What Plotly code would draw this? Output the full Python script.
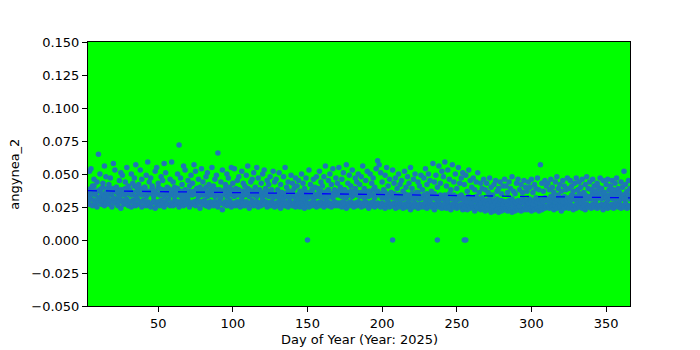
import numpy as np
import plotly.graph_objects as go

days = list(range(3, 367))

core_low = [
    0.029,0.027,0.031,0.026,0.030,0.028,0.025,0.029,0.032,0.027,0.030,0.026,0.028,0.031,
    0.027,0.030,0.025,0.029,0.028,0.031,0.026,0.029,0.024,0.030,0.027,0.028,0.031,0.026,
    0.029,0.025,0.030,0.028,0.026,0.031,0.027,0.029,0.025,0.030,0.028,0.026,0.029,0.027,
    0.025,0.028,0.030,0.024,0.027,0.029,0.026,0.030,0.028,0.025,0.029,0.027,0.031,0.026,
    0.028,0.026,0.030,0.027,0.029,0.025,0.028,0.031,0.026,0.029,0.027,0.030,0.025,0.028,
    0.027,0.029,0.026,0.030,0.028,0.024,0.029,0.027,0.030,0.026,0.028,0.025,0.029,0.027,
    0.026,0.029,0.027,0.025,0.030,0.028,0.023,0.027,0.029,0.026,0.028,0.030,0.025,0.027,
    0.028,0.026,0.029,0.027,0.025,0.030,0.028,0.026,0.029,0.027,0.024,0.028,0.030,0.026,
    0.027,0.029,0.025,0.028,0.026,0.030,0.027,0.029,0.025,0.028,0.026,0.029,0.027,0.025,
    0.028,0.026,0.029,0.024,0.027,0.029,0.026,0.028,0.025,0.030,0.027,0.026,0.028,0.025,
    0.027,0.029,0.025,0.028,0.026,0.024,0.029,0.027,0.025,0.028,0.026,0.029,0.027,0.025,
    0.028,0.026,0.029,0.027,0.025,0.028,0.030,0.026,0.028,0.025,0.027,0.029,0.026,0.028,
    0.026,0.028,0.025,0.029,0.027,0.024,0.028,0.026,0.029,0.027,0.025,0.028,0.026,0.029,
    0.027,0.025,0.028,0.026,0.029,0.027,0.024,0.028,0.026,0.029,0.025,0.027,0.028,0.026,
    0.025,0.028,0.026,0.024,0.027,0.029,0.025,0.027,0.026,0.028,0.024,0.027,0.025,0.028,
    0.026,0.024,0.027,0.025,0.028,0.026,0.023,0.027,0.025,0.028,0.026,0.024,0.027,0.025,
    0.027,0.025,0.028,0.024,0.026,0.028,0.025,0.027,0.023,0.026,0.028,0.025,0.027,0.024,
    0.026,0.028,0.024,0.027,0.025,0.023,0.027,0.025,0.028,0.024,0.026,0.025,0.027,0.023,
    0.025,0.027,0.023,0.026,0.024,0.027,0.025,0.022,0.026,0.024,0.027,0.023,0.025,0.024,
    0.022,0.025,0.023,0.026,0.021,0.024,0.022,0.025,0.023,0.021,0.024,0.022,0.025,0.023,
    0.024,0.022,0.025,0.023,0.021,0.024,0.022,0.025,0.023,0.026,0.022,0.024,0.023,0.025,
    0.023,0.026,0.024,0.022,0.025,0.023,0.026,0.024,0.022,0.025,0.023,0.026,0.024,0.025,
    0.026,0.024,0.027,0.025,0.023,0.026,0.024,0.027,0.025,0.022,0.026,0.024,0.027,0.025,
    0.024,0.027,0.025,0.023,0.026,0.024,0.027,0.025,0.028,0.024,0.026,0.023,0.027,0.025,
    0.026,0.024,0.027,0.025,0.028,0.024,0.026,0.025,0.027,0.023,0.026,0.028,0.024,0.026,
    0.025,0.027,0.024,0.026,0.028,0.025,0.027,0.024,0.026,0.025,0.028,0.024,0.026,0.025,
]

core_mid = [
    0.036,0.033,0.039,0.035,0.041,0.034,0.037,0.032,0.038,0.035,0.040,0.033,0.036,0.039,
    0.034,0.038,0.035,0.032,0.037,0.040,0.035,0.033,0.038,0.036,0.034,0.039,0.035,0.037,
    0.038,0.034,0.036,0.041,0.033,0.037,0.035,0.039,0.034,0.036,0.040,0.033,0.037,0.035,
    0.036,0.039,0.033,0.037,0.035,0.040,0.034,0.036,0.038,0.033,0.037,0.035,0.039,0.034,
    0.035,0.038,0.033,0.036,0.039,0.034,0.037,0.035,0.032,0.038,0.035,0.033,0.037,0.036,
    0.034,0.037,0.035,0.039,0.033,0.036,0.038,0.034,0.035,0.040,0.033,0.036,0.034,0.037,
    0.035,0.033,0.038,0.034,0.036,0.032,0.037,0.035,0.039,0.033,0.036,0.034,0.038,0.035,
    0.033,0.036,0.034,0.038,0.035,0.032,0.037,0.034,0.036,0.039,0.033,0.035,0.037,0.034,
    0.036,0.033,0.035,0.038,0.034,0.032,0.036,0.034,0.037,0.033,0.035,0.038,0.032,0.034,
    0.033,0.035,0.032,0.036,0.034,0.031,0.035,0.033,0.037,0.032,0.034,0.036,0.033,0.031,
    0.034,0.032,0.035,0.033,0.031,0.036,0.034,0.032,0.035,0.033,0.037,0.031,0.034,0.033,
    0.035,0.033,0.037,0.034,0.032,0.036,0.034,0.038,0.033,0.035,0.032,0.036,0.034,0.037,
    0.034,0.036,0.033,0.038,0.035,0.032,0.036,0.034,0.037,0.033,0.035,0.039,0.034,0.036,
    0.033,0.036,0.034,0.032,0.037,0.035,0.033,0.036,0.034,0.038,0.032,0.035,0.037,0.034,
    0.035,0.032,0.034,0.036,0.031,0.034,0.033,0.036,0.032,0.035,0.033,0.031,0.034,0.032,
    0.033,0.031,0.035,0.032,0.034,0.030,0.033,0.035,0.031,0.034,0.032,0.036,0.031,0.033,
    0.032,0.034,0.031,0.035,0.033,0.030,0.034,0.032,0.035,0.031,0.033,0.030,0.034,0.032,
    0.031,0.034,0.032,0.030,0.035,0.033,0.031,0.034,0.032,0.030,0.033,0.031,0.034,0.032,
    0.030,0.032,0.029,0.033,0.031,0.028,0.032,0.030,0.033,0.029,0.031,0.028,0.032,0.030,
    0.028,0.030,0.027,0.031,0.029,0.026,0.030,0.028,0.031,0.027,0.029,0.030,0.027,0.029,
    0.029,0.027,0.030,0.028,0.031,0.027,0.029,0.028,0.030,0.026,0.029,0.031,0.028,0.030,
    0.030,0.028,0.031,0.029,0.027,0.030,0.032,0.029,0.031,0.028,0.030,0.029,0.032,0.030,
    0.031,0.029,0.033,0.030,0.032,0.029,0.031,0.034,0.030,0.032,0.029,0.033,0.031,0.030,
    0.032,0.030,0.034,0.031,0.033,0.030,0.032,0.035,0.031,0.033,0.030,0.034,0.032,0.031,
    0.033,0.031,0.035,0.032,0.030,0.034,0.032,0.036,0.031,0.033,0.035,0.032,0.030,0.034,
    0.032,0.035,0.031,0.034,0.036,0.032,0.030,0.034,0.033,0.031,0.035,0.032,0.034,0.031,
]

upper = [
    0.038,0.052,0.054,0.041,0.046,0.037,0.044,0.065,0.050,0.039,0.043,0.056,0.048,0.036,
    0.042,0.047,0.039,0.058,0.053,0.040,0.037,0.045,0.051,0.049,0.038,0.044,0.055,0.041,
    0.036,0.050,0.043,0.047,0.057,0.039,0.042,0.053,0.046,0.038,0.040,0.049,0.059,0.044,
    0.047,0.041,0.037,0.052,0.055,0.043,0.039,0.048,0.045,0.058,0.051,0.040,0.036,0.046,
    0.059,0.044,0.040,0.038,0.050,0.072,0.047,0.042,0.056,0.053,0.037,0.045,0.041,0.049,
    0.043,0.057,0.052,0.039,0.046,0.040,0.054,0.044,0.037,0.048,0.051,0.042,0.038,0.055,
    0.041,0.046,0.049,0.066,0.038,0.044,0.053,0.036,0.042,0.050,0.047,0.040,0.055,0.043,
    0.054,0.039,0.045,0.048,0.037,0.052,0.043,0.041,0.049,0.056,0.038,0.044,0.046,0.051,
    0.040,0.055,0.047,0.037,0.043,0.050,0.053,0.039,0.045,0.042,0.048,0.036,0.052,0.044,
    0.046,0.038,0.051,0.042,0.036,0.048,0.055,0.040,0.044,0.037,0.049,0.043,0.039,0.047,
    0.041,0.045,0.037,0.050,0.043,0.039,0.047,0.036,0.053,0.042,0.038,0.046,0.040,0.048,
    0.039,0.052,0.044,0.041,0.048,0.056,0.037,0.045,0.050,0.042,0.054,0.038,0.047,0.043,
    0.055,0.040,0.046,0.051,0.038,0.057,0.043,0.049,0.041,0.053,0.036,0.047,0.044,0.050,
    0.042,0.048,0.056,0.039,0.045,0.052,0.037,0.050,0.043,0.047,0.040,0.054,0.060,0.057,
    0.051,0.044,0.038,0.049,0.055,0.041,0.046,0.036,0.053,0.043,0.047,0.039,0.050,0.042,
    0.045,0.037,0.052,0.040,0.048,0.043,0.055,0.039,0.046,0.050,0.036,0.044,0.041,0.049,
    0.038,0.047,0.054,0.042,0.050,0.045,0.037,0.058,0.044,0.049,0.040,0.056,0.043,0.052,
    0.048,0.059,0.041,0.053,0.046,0.038,0.057,0.044,0.050,0.039,0.055,0.043,0.047,0.051,
    0.042,0.049,0.037,0.053,0.045,0.040,0.047,0.038,0.044,0.051,0.036,0.043,0.039,0.046,
    0.038,0.043,0.036,0.047,0.040,0.034,0.042,0.045,0.037,0.039,0.044,0.035,0.041,0.046,
    0.041,0.036,0.044,0.039,0.048,0.037,0.035,0.043,0.046,0.038,0.042,0.036,0.045,0.040,
    0.037,0.044,0.040,0.046,0.036,0.042,0.039,0.047,0.038,0.057,0.043,0.037,0.045,0.041,
    0.043,0.038,0.046,0.040,0.036,0.044,0.048,0.039,0.042,0.037,0.045,0.041,0.038,0.047,
    0.039,0.045,0.041,0.037,0.043,0.047,0.038,0.044,0.040,0.046,0.036,0.042,0.048,0.039,
    0.044,0.038,0.046,0.041,0.037,0.043,0.040,0.047,0.039,0.045,0.036,0.042,0.046,0.038,
    0.041,0.045,0.038,0.043,0.047,0.039,0.036,0.044,0.040,0.052,0.042,0.037,0.045,0.039,
]

zero_days = [150, 207, 237, 255, 256]
zero_vals = [0.0, 0.0, 0.0, 0.0, 0.0]

x_all = np.array(days * 3 + zero_days, dtype=float)
y_all = np.array(core_low + core_mid + upper + zero_vals, dtype=float)

slope, intercept = np.polyfit(x_all, y_all, 1)
x_min, x_max = x_all.min(), x_all.max()
trend_x = [x_min, x_max]
trend_y = [intercept + slope * x_min, intercept + slope * x_max]

fig = go.Figure()
fig.add_trace(go.Scatter(
    x=x_all, y=y_all, mode="markers",
    marker=dict(color="#1f77b4", size=5.5, line=dict(width=0)),
    showlegend=False,
))
fig.add_trace(go.Scatter(
    x=trend_x, y=trend_y, mode="lines",
    line=dict(color="#0000ff", width=1.3, dash="dash"),
    showlegend=False,
))

font = dict(family="DejaVu Sans", size=13, color="black")
axis_common = dict(
    showgrid=False, zeroline=False, showline=True, linecolor="black", linewidth=1,
    mirror=True, ticks="outside", ticklen=5, tickwidth=1, tickcolor="black",
    tickfont=font,
)

fig.update_layout(
    width=700, height=350,
    margin=dict(l=88, r=70, t=42, b=44),
    paper_bgcolor="white", plot_bgcolor="#00ff00",
    font=font,
    xaxis=dict(range=[x_min, x_max], tickvals=[50, 100, 150, 200, 250, 300, 350], **axis_common),
    yaxis=dict(range=[-0.05, 0.15], tickvals=[-0.05, -0.025, 0, 0.025, 0.05, 0.075, 0.1, 0.125, 0.15],
               tickformat=".3f", **axis_common),
    annotations=[
        dict(text="Day of Year (Year: 2025)", xref="paper", yref="paper", x=0.5, y=-0.1629,
             xanchor="center", yanchor="bottom", showarrow=False, font=font),
        dict(text="angynea_2", xref="paper", yref="paper", x=-0.137, y=0.5, textangle=-90,
             xanchor="center", yanchor="middle", showarrow=False, font=font),
    ],
)

fig.write_html("out.html")
